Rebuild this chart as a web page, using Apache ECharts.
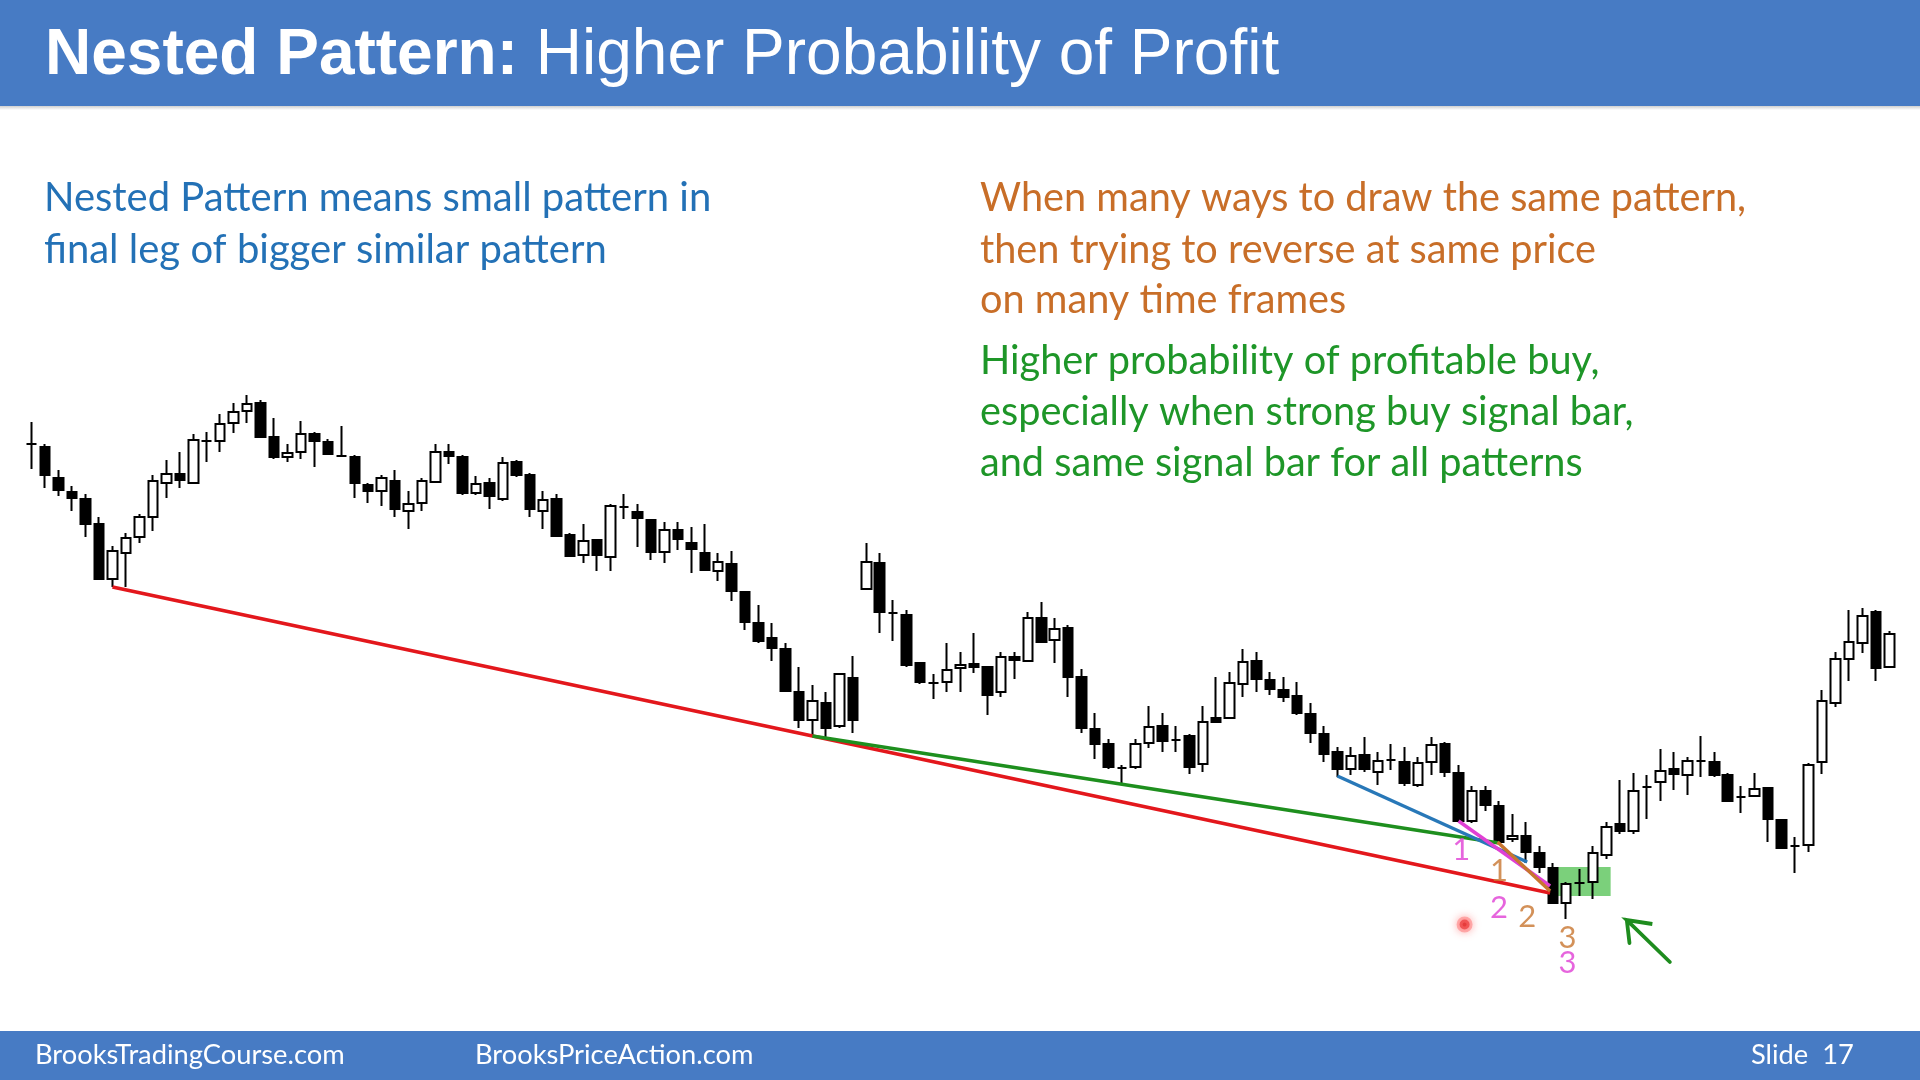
<!DOCTYPE html>
<html><head><meta charset="utf-8">
<script src="https://cdn.jsdelivr.net/npm/echarts@6/dist/echarts.min.js"></script>
<style>html,body{margin:0;padding:0;background:#fff}#c{width:1920px;height:1080px}</style>
</head><body><div id="c"></div>
<script>
// ---- candle values (chart units) ----
const openV = [556,553,522,508,501,476,421,447,463,483,517,526,517,559,559,
 577,589,597,563,543,548,566,558,544,543,515,509,519,489,497,
 518,548,543,507,517,501,538,525,489,501,465,445,460,443,493,
 488,480,448,470,457,447,429,436,408,377,362,351,308,280,297,274,322,
 411,437,387,385,337,317,318,332,336,333,308,343,339,382,360,
 372,323,271,256,232,233,257,274,260,264,236,282,282,316,339,
 320,310,304,286,266,248,231,245,228,240,238,215,238,256,227,
 179,209,194,161,164,147,132,97,117,118,145,176,169,213,218,231,
 225,239,238,225,203,204,212,180,154,155,238,297,341,357,388,333];
const closeV = [556,525,510,502,476,421,449,462,483,519,526,520,560,559,576,
 588,596,563,543,547,566,559,546,544,517,509,522,491,496,519,
 548,544,507,516,504,537,525,491,500,464,444,459,445,494,493,
 482,448,470,461,451,430,438,409,378,359,352,309,280,299,272,326,280,
 438,388,387,335,318,317,330,335,333,305,343,340,382,358,371,
 323,272,256,233,232,256,273,259,260,233,278,278,317,338,321,
 311,303,287,267,246,231,244,231,239,240,217,237,255,228,179,
 209,195,158,164,148,133,97,116,117,147,173,169,209,213,229,226,
 239,239,225,199,203,211,181,152,154,235,299,341,358,384,332,366];
const lowV = [531,512,504,489,463,421,413,413,457,469,502,512,517,538,548,
 567,577,563,541,538,541,533,546,543,502,497,494,483,471,489,
 517,536,505,505,491,499,523,483,471,463,443,437,429,429,481,
 453,440,437,450,427,430,419,399,370,357,339,309,272,265,263,272,267,
 411,367,359,333,316,301,308,308,327,285,303,321,339,357,337,
 303,267,241,231,217,231,252,248,248,226,228,277,282,303,308,
 305,298,285,257,238,223,225,228,215,230,214,213,225,223,179,
 177,189,158,158,137,127,97,81,104,101,141,166,166,181,199,210,
 205,223,223,199,187,203,158,151,127,148,226,293,319,347,319,333];
const highV = [578,556,530,514,506,483,454,467,486,525,540,548,566,568,586,
 597,605,600,582,556,579,568,561,574,545,517,525,530,509,522,
 556,556,545,524,522,543,540,527,509,506,467,476,460,496,506,
 496,481,478,478,473,476,447,449,408,395,377,357,333,315,308,326,344,
 457,447,400,390,338,326,357,348,367,333,348,348,388,398,382,
 375,331,287,261,235,261,294,287,274,266,294,323,328,351,348,
 328,323,318,297,274,253,253,263,248,256,253,243,263,258,235,
 214,214,199,186,178,154,137,118,131,154,178,220,227,225,251,248,
 243,264,248,227,214,227,212,180,163,237,310,348,390,392,390,369];

// ---- annotation lines: [barIndex, value] ----
const redLine = [[6, 413], [112.8, 107]];
const greenLine = [[58, 264], [109, 157]];
const blueLine = [[97, 224], [111.1, 138]];
const magentaLine = [[106, 179], [112.8, 114]];
const orangeLine = [[108.9, 158], [112.8, 109]];
const zoneBox = [[112.9, 133], [117.3, 104]];
const arrowPts = [[121.7, 38], [118.5, 80], [120.4, 76], [118.5, 80], [118.7, 57]];
const cursorDot = [106.45, 75.5];
const countLabels = [
  {name: '1', pos: [106.2, 150], color: '#E03ED4'},
  {name: '1', pos: [109.0, 129], color: '#C8762F'},
  {name: '2', pos: [109.0, 92], color: '#E03ED4'},
  {name: '2', pos: [111.1, 83], color: '#C8762F'},
  {name: '3', pos: [114.1, 62], color: '#C8762F'},
  {name: '3', pos: [114.1, 37], color: '#E03ED4'}
];

const categories = openV.map((_, i) => String(i));
const candles = openV.map((o, i) => [o, closeV[i], lowV[i], highV[i]]);

const chart = echarts.init(document.getElementById('c'), null, {renderer: 'canvas'});
const BLUE = '#477BC4';
const bodyFont = 'Lato';

function lineSeries(data, color, width, z) {
  return {type: 'line', xAxisIndex: 1, yAxisIndex: 0, data: data, symbol: 'none',
    lineStyle: {color: color, width: width}, silent: true, z: z, animation: false};
}

chart.setOption({
  animation: false,
  backgroundColor: '#ffffff',
  grid: {left: 25, right: 24, top: 300, bottom: 80},
  xAxis: [
    {type: 'category', data: categories, show: false, boundaryGap: true},
    {type: 'value', min: -0.5, max: 138.5, show: false}
  ],
  yAxis: [{type: 'value', min: 0, max: 700, show: false}],
  graphic: [
    {type: 'rect', shape: {x: 0, y: 0, width: 1920, height: 106}, style: {fill: BLUE}, z: 1},
    {type: 'rect', shape: {x: 0, y: 106, width: 1920, height: 4},
      style: {fill: new echarts.graphic.LinearGradient(0, 0, 0, 1, [{offset: 0, color: '#d0d0d0'}, {offset: 1, color: '#ffffff'}])}, z: 1},
    {type: 'text', x: 45, y: 56, z: 2, style: {
      text: '{b|Nested Pattern: }{r|Higher Probability of Profit}',
      verticalAlign: 'middle', fill: '#fff',
      rich: {
        b: {fontWeight: 'bold', fontSize: 64, fontFamily: 'Liberation Sans', fill: '#fff'},
        r: {fontWeight: 'normal', fontSize: 64, fontFamily: 'Liberation Sans', fill: '#fff'}
      }}},
    {type: 'text', x: 44, y: 198, z: 2, style: {text: 'Nested Pattern means small pattern in', fontSize: 40, fontFamily: bodyFont, fill: '#2371B6', verticalAlign: 'middle'}},
    {type: 'text', x: 44, y: 250, z: 2, style: {text: 'final leg of bigger similar pattern', fontSize: 40, fontFamily: bodyFont, fill: '#2371B6', verticalAlign: 'middle'}},
    {type: 'text', x: 980, y: 198, z: 2, style: {text: 'When many ways to draw the same pattern,', fontSize: 39.7, fontFamily: bodyFont, fill: '#C86E28', verticalAlign: 'middle'}},
    {type: 'text', x: 980, y: 250, z: 2, style: {text: 'then trying to reverse at same price', fontSize: 39.7, fontFamily: bodyFont, fill: '#C86E28', verticalAlign: 'middle'}},
    {type: 'text', x: 980, y: 300, z: 2, style: {text: 'on many time frames', fontSize: 39.7, fontFamily: bodyFont, fill: '#C86E28', verticalAlign: 'middle'}},
    {type: 'text', x: 980, y: 361, z: 2, style: {text: 'Higher probability of profitable buy,', fontSize: 39.7, fontFamily: bodyFont, fill: '#1E9628', verticalAlign: 'middle'}},
    {type: 'text', x: 980, y: 412, z: 2, style: {text: 'especially when strong buy signal bar,', fontSize: 39.7, fontFamily: bodyFont, fill: '#1E9628', verticalAlign: 'middle'}},
    {type: 'text', x: 980, y: 463, z: 2, style: {text: 'and same signal bar for all patterns', fontSize: 39.7, fontFamily: bodyFont, fill: '#1E9628', verticalAlign: 'middle'}},
    {type: 'rect', shape: {x: 0, y: 1031, width: 1920, height: 49}, style: {fill: BLUE}, z: 1},
    {type: 'text', x: 35, y: 1055, z: 2, style: {text: 'BrooksTradingCourse.com', fontSize: 27.3, fontFamily: bodyFont, fill: '#fff', verticalAlign: 'middle'}},
    {type: 'text', x: 475, y: 1055, z: 2, style: {text: 'BrooksPriceAction.com', fontSize: 27.3, fontFamily: bodyFont, fill: '#fff', verticalAlign: 'middle'}},
    {type: 'text', x: 1751, y: 1055, z: 2, style: {text: 'Slide  17', fontSize: 27.3, fontFamily: bodyFont, fill: '#fff', verticalAlign: 'middle'}}
  ],
  series: [
    {type: 'candlestick', xAxisIndex: 0, yAxisIndex: 0, data: candles, barWidth: 10, silent: true, z: 2,
      itemStyle: {color: '#ffffff', color0: '#000000', borderColor: '#000000', borderColor0: '#000000', borderColorDoji: '#000000', borderWidth: 2}},
    lineSeries(redLine, '#E3171C', 3.8, 3),
    lineSeries(greenLine, '#1E8F1E', 3.5, 3),
    lineSeries(blueLine, '#2878B8', 3.5, 3),
    lineSeries(magentaLine, '#E040D4', 3.5, 3),
    Object.assign(lineSeries(orangeLine, '#C8762F', 3.5, 3), {
      markArea: {silent: true, itemStyle: {color: 'rgba(60,185,60,0.68)'},
        data: [[{coord: zoneBox[0]}, {coord: zoneBox[1]}]]}
    }),
    Object.assign(lineSeries(arrowPts, '#1E8C1E', 3.8, 4), {lineStyle: {color: '#1E8C1E', width: 3.8, join: 'miter', cap: 'round'}}),
    {type: 'scatter', xAxisIndex: 1, yAxisIndex: 0, silent: true, z: 5,
      data: [cursorDot], symbolSize: 10,
      itemStyle: {color: '#D81818', borderColor: 'rgba(255,110,110,0.6)', borderWidth: 6, shadowBlur: 10, shadowColor: 'rgba(255,60,60,0.6)'}},
    {type: 'scatter', xAxisIndex: 1, yAxisIndex: 0, silent: true, z: 5, symbolSize: 0,
      data: countLabels.map(d => ({name: d.name, value: d.pos,
        label: {show: true, position: 'inside', formatter: '{b}', color: d.color, fontSize: 31, fontFamily: bodyFont}}))}
  ]
});
</script></body></html>
